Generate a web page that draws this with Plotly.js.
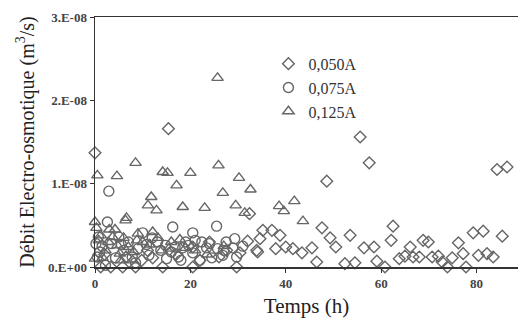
<!DOCTYPE html>
<html>
<head>
<meta charset="utf-8">
<script src="https://cdn.plot.ly/plotly-3.0.1.min.js"></script>
<style>html,body{margin:0;padding:0;background:#fff;}#chart{width:518px;height:323px;}</style>
</head>
<body>
<div id="chart"></div>
<script>
// Series names
const seriesNames = ["0,050A", "0,075A", "0,125A"];

// 0,050A (diamonds): time (h) and flow (m3/s)
const t050 = [0,15.4,55.6,57.5,48.6,84.3,86.4,32.4,34.6,33.9,35.2,37.1,38.8,37.9,40,41.5,43.4,45.5,46.5,47.6,49.3,50.5,53.5,52.4,54.5,56.4,58.5,59.1,60.8,62.1,62.5,63.8,65,66.1,66.7,68,68.8,69.9,70.7,72,72.8,73.9,74.9,76.2,77.2,77.8,79.3,81.4,80.4,82.2,83.5,85.4,32,34.1,29.7,30.4,1.2,3.3,5.8,8.5,14.2,20.5,9.8,12.1,22,27.6,20.5,2,6.5,11,17,24,26];
const q050 = [1.37e-8,1.66e-8,1.56e-8,1.25e-8,1.03e-8,1.17e-8,1.2e-8,0.64e-8,0.34e-8,0.2e-8,0.44e-8,0.44e-8,0.38e-8,0.22e-8,0.24e-8,0.22e-8,0.17e-8,0.23e-8,0.06e-8,0.47e-8,0.35e-8,0.24e-8,0.38e-8,0.04e-8,0.05e-8,0.23e-8,0.24e-8,0.07e-8,0,0.32e-8,0.49e-8,0.1e-8,0.13e-8,0.24e-8,0.12e-8,0.12e-8,0.32e-8,0.3e-8,0.12e-8,0.13e-8,0.06e-8,0,0.11e-8,0.29e-8,0.16e-8,0,0.41e-8,0.43e-8,0.14e-8,0.16e-8,0.12e-8,0.37e-8,0.31e-8,0.18e-8,0,0.17e-8,0,0,0,0,0,0,0.08e-8,0.11e-8,0.08e-8,0.2e-8,0.24e-8,0.15e-8,0.12e-8,0.2e-8,0.15e-8,0.3e-8,0.12e-8];

// 0,075A (circles)
const t075 = [2.9,2.6,0.7,0.5,5,4.3,10,16.3,11.3,13.1,14.8,16.8,18.4,19.6,17.5,8.5,2.2,20.5,22.4,23.4,26.8,29.3,28.9,25.7,24.5,25.5,20.5,29.7,22,7,9,12,15,6,1.5,27.5,31,3.5,21,18,0.2,1,5.5,7.8,10.8,13.8,16,19,24,27];
const q075 = [0.91e-8,0.54e-8,0.36e-8,0.12e-8,0.36e-8,0.11e-8,0.41e-8,0.48e-8,0.14e-8,0.3e-8,0.26e-8,0.24e-8,0.23e-8,0.26e-8,0.12e-8,0.05e-8,0.02e-8,0.41e-8,0.3e-8,0.23e-8,0.14e-8,0.34e-8,0.23e-8,0.22e-8,0.11e-8,0.49e-8,0.17e-8,0.12e-8,0.08e-8,0.3e-8,0.22e-8,0.35e-8,0.1e-8,0.2e-8,0.25e-8,0.3e-8,0.25e-8,0.28e-8,0.32e-8,0.08e-8,0.28e-8,0.18e-8,0.27e-8,0.12e-8,0.27e-8,0.2e-8,0.18e-8,0.3e-8,0.28e-8,0.2e-8];

// 0,125A (triangles)
const t125 = [25.7,8.5,0.5,4.6,14.2,15.2,20,25.9,30.2,17.1,32.6,11.8,26.8,11.1,12.9,18.4,23,29.5,31.4,38.6,39.6,41.8,43.6,6.6,0,0.3,6.4,12.1,0.8,3.7,4.7,6,7,2.2,1.6,8.1,5.4,0,7.9,19,10,14,16,21,23.5,27,3,9,1.2,2.8,4.2,5.2,8.8,11.5,13.2,15.5,17.8];
const q125 = [2.27e-8,1.25e-8,1.1e-8,1.09e-8,1.14e-8,1.13e-8,1.13e-8,1.22e-8,1.07e-8,0.98e-8,0.93e-8,0.84e-8,0.89e-8,0.74e-8,0.68e-8,0.72e-8,0.71e-8,0.74e-8,0.65e-8,0.73e-8,0.67e-8,0.79e-8,0.55e-8,0.59e-8,0.54e-8,0.47e-8,0.56e-8,0.42e-8,0.32e-8,0.36e-8,0.26e-8,0.35e-8,0.24e-8,0.2e-8,0.11e-8,0.18e-8,0.08e-8,0.1e-8,0.08e-8,0.23e-8,0.3e-8,0.2e-8,0.3e-8,0.2e-8,0.15e-8,0.25e-8,0.45e-8,0.4e-8,0.38e-8,0.3e-8,0.45e-8,0.16e-8,0.32e-8,0.27e-8,0.35e-8,0.22e-8,0.33e-8];

// Axis ticks
const yTickVals = [0, 1e-8, 2e-8, 3e-8];
const yTickText = ["0.E+00", "1.E-08", "2.E-08", "3.E-08"];
const xTickVals = [0, 20, 40, 60, 80];

const markColor = "#666666";
const serif = "Liberation Serif, Times New Roman, serif";

function mk(x, y, name, symbol, size) {
  return {
    x: x, y: y, name: name, type: "scatter", mode: "markers", cliponaxis: false,
    marker: {symbol: symbol, size: size, color: markColor, line: {color: markColor, width: 1.4}}
  };
}

const data = [
  mk(t050, q050, seriesNames[0], "diamond-open", 9),
  mk(t075, q075, seriesNames[1], "circle-open", 10),
  mk(t125, q125, seriesNames[2], "triangle-up-open", 10)
];

const layout = {
  width: 518, height: 323,
  margin: {l: 95, r: 0, t: 17, b: 56},
  paper_bgcolor: "#fff", plot_bgcolor: "#fff",
  showlegend: true,
  legend: {x: 0.41, y: 0.881, xanchor: "left", yanchor: "top", bgcolor: "rgba(0,0,0,0)",
           font: {family: serif, size: 16, color: "#333"}, itemwidth: 30},
  xaxis: {
    range: [0, 88.7], tickvals: xTickVals, ticks: "outside", ticklen: 4, tickcolor: "#333",
    showline: true, linecolor: "#333", linewidth: 1.5, mirror: true, showgrid: false, zeroline: false,
    tickfont: {family: serif, size: 13, color: "#444", weight: "bold"},
    title: {text: "Temps (h)", font: {family: serif, size: 21, color: "#222"}, standoff: 8}
  },
  yaxis: {
    range: [0, 3e-8], tickvals: yTickVals, ticktext: yTickText, ticks: "outside", ticklen: 4, tickcolor: "#333",
    showline: true, linecolor: "#333", linewidth: 1.5, showgrid: false, zeroline: false,
    tickfont: {family: serif, size: 13, color: "#444", weight: "bold"},
    title: {text: "Débit Electro-osmotique (m<sup>3</sup>/s)", font: {family: serif, size: 20, color: "#222"}, standoff: 8}
  }
};

Plotly.newPlot("chart", data, layout, {staticPlot: true, displayModeBar: false});
</script>
</body>
</html>
